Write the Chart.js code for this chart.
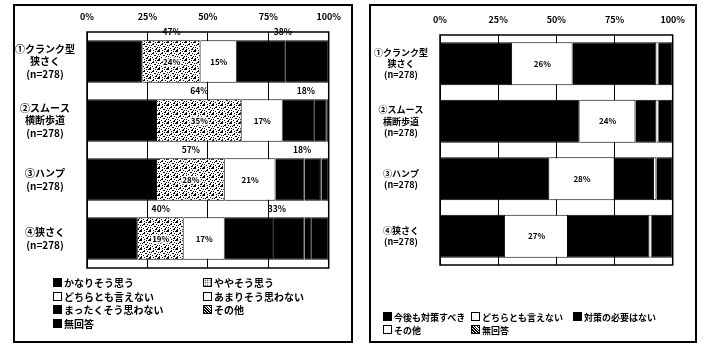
<!DOCTYPE html>
<html>
<head>
<meta charset="utf-8">
<script src="https://cdn.jsdelivr.net/npm/chart.js@4/dist/chart.umd.min.js"></script>
<style>
  body { margin: 0; background: #fff; width: 703px; height: 345px; position: relative; overflow: hidden;
         font-family: "Noto Sans CJK JP", sans-serif; font-weight: bold; color: #000; }
  .box { position: absolute; box-sizing: border-box; border: 2px solid #000; }
  .box canvas { position: absolute; left: 0; top: 0; }
  .legend { position: absolute; display: grid; font-size: 10px; line-height: 13.5px; white-space: nowrap; }
  .legend span.ic { display: inline-block; width: 7px; height: 7px; border: 1px solid #000; margin-right: 2px; }
</style>
</head>
<body>
<div class="box" id="leftBox" style="left:13px;top:4px;width:340px;height:339px;">
  <div style="position:absolute;left:0;top:0;width:336px;height:335px;"><canvas id="leftChart"></canvas></div>
</div>
<div class="legend" id="leftLegend" style="left:53px;top:276px;grid-template-columns:150px 150px;"></div>

<div class="box" id="rightBox" style="left:369px;top:4px;width:328px;height:339px;">
  <div style="position:absolute;left:0;top:0;width:324px;height:335px;"><canvas id="rightChart"></canvas></div>
</div>
<div class="legend" id="rightLegend" style="left:383px;top:311px;grid-template-columns:88px 102px 110px;font-size:9px;line-height:13px;"></div>

<script>
const categories = [
  ['①クランク型', '狭さく', '(n=278)'],
  ['②スムース', '横断歩道', '(n=278)'],
  ['③ハンプ', '(n=278)'],
  ['④狭さく', '(n=278)']
];
const xTicks = [0, 25, 50, 75, 100];

// left panel: 意見
const leftLabels = ['かなりそう思う', 'ややそう思う', 'どちらとも言えない', 'あまりそう思わない', 'まったくそう思わない', 'その他', '無回答'];
const strongAgree    = [23, 29, 29, 21];
const agree          = [24, 35, 28, 19];
const neutral        = [15, 17, 21, 17];
const disagree       = [20, 13, 12, 20];
const strongDisagree = [18, 5, 6, 13];
const otherA         = [0, 0, 1, 3];
const noAnswerA      = [0, 1, 3, 7];
const agreeTotals    = [47, 64, 57, 40];
const disagreeTotals = [38, 18, 18, 33];

// right panel: 対策
const rightLabels = ['今後も対策すべき', 'どちらとも言えない', '対策の必要はない', 'その他', '無回答'];
const mustAct   = [31, 60, 47, 28];
const undecided = [26, 24, 28, 27];
const noNeed    = [36, 9, 17, 35];
const otherB    = [1, 1, 1, 1];
const noAnswerB = [6, 6, 7, 9];

const FONT = '"Noto Sans CJK JP", sans-serif';

// speckled fill for ややそう思う
function makeDots() {
  const c = document.createElement('canvas');
  c.width = 9; c.height = 9;
  const g = c.getContext('2d');
  g.fillStyle = '#fff';
  g.fillRect(0, 0, 9, 9);
  g.fillStyle = '#000';
  [[0,0],[3,1],[6,2],[1,3],[4,4],[7,5],[2,6],[5,7],[5,0],[0,5],[8,8],[8,3],[3,8]].forEach(p => g.fillRect(p[0], p[1], 1, 1));
  g.fillRect(2, 2, 2, 1);
  g.fillRect(6, 6, 1, 2);
  g.fillRect(7, 0, 2, 1);
  g.fillRect(0, 7, 1, 2);
  g.fillRect(5, 4, 1, 1);
  return g.createPattern(c, 'repeat');
}
const dots = makeDots();

const frame = {
  id: 'frame',
  afterDraw(chart) {
    const { ctx, chartArea: a } = chart;
    ctx.save();
    ctx.strokeStyle = '#000';
    ctx.lineWidth = 1.5;
    ctx.strokeRect(a.left, a.top, a.right - a.left, a.bottom - a.top);
    ctx.restore();
  }
};

const segLabels = {
  id: 'segLabels',
  afterDatasetsDraw(chart) {
    const ctx = chart.ctx;
    ctx.save();
    ctx.font = 'bold 8px ' + FONT;
    ctx.textAlign = 'center';
    ctx.textBaseline = 'middle';
    ctx.lineJoin = 'round';
    chart.data.datasets.forEach((ds, di) => {
      if (!ds.showValue) return;
      chart.getDatasetMeta(di).data.forEach((el, i) => {
        const x = (el.x + el.base) / 2;
        const t = ds.data[i] + '%';
        if (ds.backgroundColor !== '#fff') {
          ctx.strokeStyle = '#fff';
          ctx.lineWidth = 3;
          ctx.strokeText(t, x, el.y);
        }
        ctx.fillStyle = '#000';
        ctx.fillText(t, x, el.y);
      });
    });
    ctx.restore();
  }
};

// 合計ラベル (上の帯)
const totals = {
  id: 'totals',
  afterDraw(chart) {
    const opts = chart.options.plugins.totals;
    if (!opts || !opts.agree) return;
    const ctx = chart.ctx;
    const ys = chart.scales.y, xs = chart.scales.x;
    const step = ys.getPixelForValue(1) - ys.getPixelForValue(0);
    const agreeMeta = chart.getDatasetMeta(1).data;
    const disMeta = chart.getDatasetMeta(3).data;
    ctx.save();
    ctx.font = 'bold 8.5px ' + FONT;
    ctx.fillStyle = '#000';
    ctx.textAlign = 'center';
    ctx.textBaseline = 'middle';
    opts.agree.forEach((v, i) => {
      const y = ys.getPixelForValue(i) - step / 2;
      const a = agreeMeta[i];
      ctx.fillText(v + '%', (a.x + a.base) / 2, y);
      const d = disMeta[i];
      ctx.fillText(opts.disagree[i] + '%', (d.base + xs.getPixelForValue(100)) / 2, y);
    });
    ctx.restore();
  }
};

function barOptions(yWidth, xHeight, pad, totalOpts) {
  return {
    indexAxis: 'y',
    responsive: true,
    maintainAspectRatio: false,
    animation: false,
    devicePixelRatio: 1,
    layout: { padding: pad },
    plugins: {
      legend: { display: false },
      tooltip: { enabled: false },
      totals: totalOpts
    },
    scales: {
      x: {
        stacked: true,
        position: 'top',
        min: 0,
        max: 100,
        afterBuildTicks: s => { s.ticks = xTicks.map(v => ({ value: v })); },
        afterFit: s => { s.height = xHeight; },
        ticks: { color: '#000', padding: 10, font: { size: 9, weight: 'bold', family: FONT }, callback: v => v + '%' },
        grid: { color: '#000', lineWidth: 1, drawTicks: false },
        border: { display: false }
      },
      y: {
        stacked: true,
        afterFit: s => { s.width = yWidth; },
        ticks: { color: '#000', crossAlign: 'center', padding: 4, font: { size: 10, weight: 'bold', family: FONT, lineHeight: 1.25 } },
        grid: { display: false },
        border: { display: false }
      }
    }
  };
}

function ds(label, data, color, bp, showValue) {
  return { label, data, backgroundColor: color, borderColor: '#000', borderWidth: 1,
           barPercentage: bp, categoryPercentage: 1, showValue: !!showValue };
}

const leftColors = ['#000', dots, '#fff', '#000', '#000', '#000', '#000'];
const leftData = [strongAgree, agree, neutral, disagree, strongDisagree, otherA, noAnswerA];
new Chart(document.getElementById('leftChart'), {
  type: 'bar',
  data: {
    labels: categories,
    datasets: leftData.map((d, i) => ds(leftLabels[i], d, leftColors[i], 0.72, i === 1 || i === 2))
  },
  options: barOptions(72, 26, { left: 0, right: 13, top: 0, bottom: 73 }, { agree: agreeTotals, disagree: disagreeTotals }),
  plugins: [frame, segLabels, totals]
});

const rightColors = ['#000', '#fff', '#000', '#fff', '#000'];
const rightData = [mustAct, undecided, noNeed, otherB, noAnswerB];
const rOpts = barOptions(69, 29, { left: 0, right: 17, top: 0, bottom: 76 }, {});
rOpts.scales.y.ticks.font.size = 9;
new Chart(document.getElementById('rightChart'), {
  type: 'bar',
  data: {
    labels: categories,
    datasets: rightData.map((d, i) => ds(rightLabels[i], d, rightColors[i], 0.75, i === 1))
  },
  options: rOpts,
  plugins: [frame, segLabels]
});

function legend(el, labels, icons) {
  el.innerHTML = labels.map((l, i) =>
    `<div><span class="ic" style="background:${icons[i]}"></span>${l}</div>`).join('');
}
const dotIcon = 'radial-gradient(#000 0.6px, #fff 0.9px) 0 0/2.5px 2.5px';
legend(document.getElementById('leftLegend'), leftLabels,
  ['#000', dotIcon, '#fff', '#fff', '#000', 'repeating-linear-gradient(45deg,#000 0 1px,#fff 1px 2px)', '#000']);
legend(document.getElementById('rightLegend'), rightLabels,
  ['#000', '#fff', '#000', '#fff', 'repeating-linear-gradient(45deg,#000 0 1px,#fff 1px 2px)']);
</script>
</body>
</html>
